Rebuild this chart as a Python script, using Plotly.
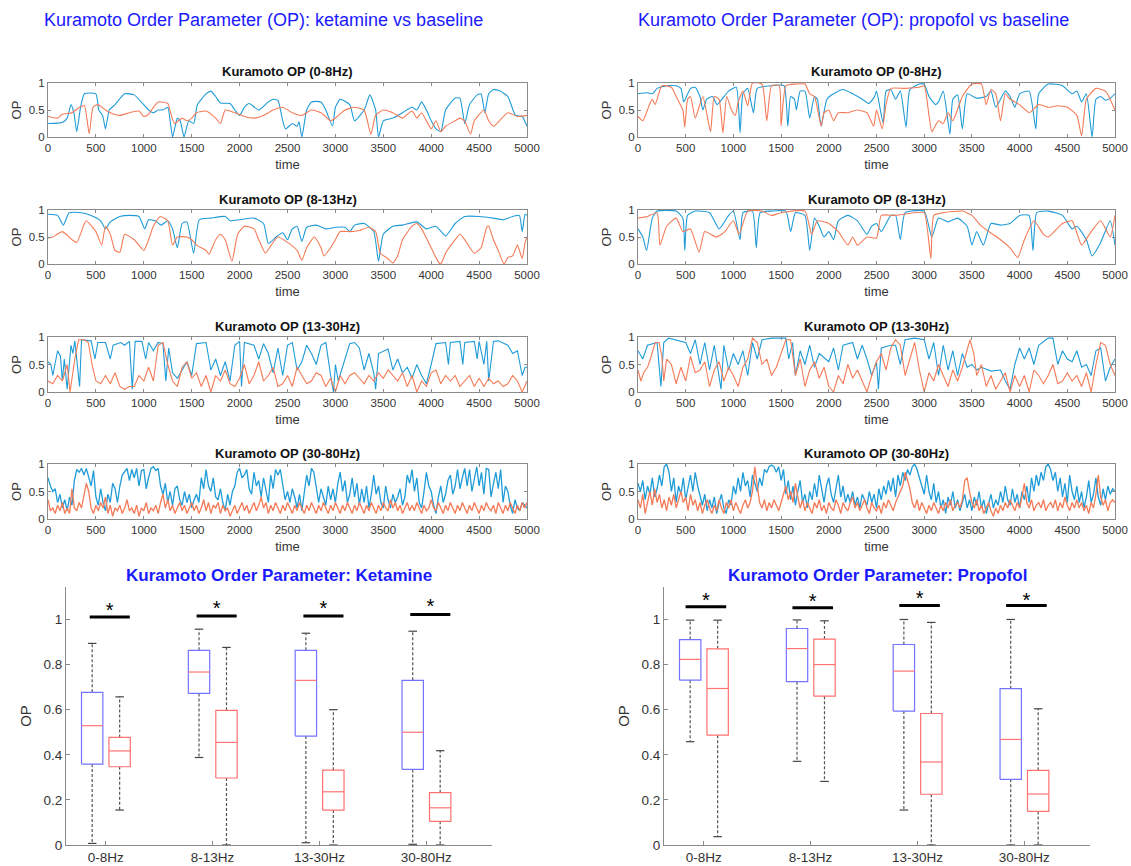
import numpy as np
import plotly.graph_objects as go

W, H = 1131, 866          # picture size
FONT = "Liberation Sans, Arial, sans-serif"
BLUE = "#1f9bd7"
ORANGE = "#f47b57"

# ---------------- time-series data (time, OP) ----------------
KET_08_BASE = [(0,0.25),(150,0.27),(200,0.35),(240,0.6),(270,0.45),(300,0.1),(340,0.55),(380,0.8),(500,0.8),(530,0.5),
 (570,0.4),(600,0.15),(640,0.5),(700,0.6),(800,0.8),(900,0.78),(1050,0.5),(1100,0.45),(1150,0.5),(1200,0.5),
 (1250,0.55),(1300,0.0),(1350,0.35),(1380,0.3),(1420,0.0),(1470,0.3),(1520,0.25),(1560,0.6),(1650,0.8),(1700,0.85),
 (1750,0.75),(1800,0.63),(1900,0.62),(1950,0.5),(2000,0.4),(2050,0.55),(2100,0.62),(2200,0.5),(2300,0.65),(2350,0.7),
 (2400,0.68),(2450,0.3),(2480,0.15),(2550,0.25),(2600,0.2),(2620,0.28),(2650,0.0),(2700,0.5),(2750,0.65),(2850,0.65),
 (2900,0.5),(2970,0.2),(3000,0.55),(3050,0.7),(3150,0.6),(3200,0.3),(3300,0.5),(3360,0.78),(3420,0.5),(3450,0.0),
 (3500,0.3),(3600,0.35),(3700,0.45),(3800,0.55),(3850,0.5),(3900,0.65),(3950,0.5),(4000,0.3),(4050,0.15),(4100,0.1),
 (4150,0.5),(4250,0.72),(4300,0.72),(4350,0.25),(4400,0.6),(4480,0.78),(4520,0.8),(4560,0.45),(4600,0.8),(4650,0.88),
 (4720,0.85),(4800,0.75),(4880,0.4),(4950,0.38),(5000,0.2)]
KET_08_DRUG = [(0,0.38),(100,0.35),(150,0.42),(250,0.45),(330,0.55),(380,0.58),(430,0.06),(470,0.55),(520,0.6),(600,0.5),
 (650,0.45),(750,0.4),(850,0.45),(950,0.48),(1000,0.38),(1050,0.42),(1100,0.55),(1150,0.65),(1250,0.62),(1280,0.45),
 (1320,0.25),(1400,0.35),(1450,0.3),(1500,0.35),(1550,0.45),(1650,0.48),(1750,0.35),(1800,0.25),(1850,0.5),(1950,0.45),
 (2050,0.38),(2150,0.35),(2250,0.4),(2350,0.5),(2450,0.55),(2550,0.45),(2650,0.4),(2750,0.5),(2850,0.45),(2950,0.3),
 (3000,0.35),(3100,0.5),(3200,0.55),(3300,0.5),(3370,0.05),(3420,0.4),(3500,0.5),(3600,0.45),(3700,0.35),(3800,0.48),
 (3850,0.35),(3900,0.45),(3950,0.3),(4000,0.15),(4050,0.3),(4100,0.1),(4150,0.2),(4250,0.3),(4300,0.35),(4350,0.3),
 (4410,0.05),(4450,0.3),(4550,0.5),(4600,0.3),(4650,0.2),(4800,0.45),(4900,0.38),(5000,0.4)]

KET_813_BASE = [(0,0.92),(100,0.9),(160,0.72),(220,0.95),(350,0.95),(450,0.9),(550,0.8),(600,0.65),(650,0.78),(750,0.88),
 (850,0.9),(950,0.88),(1010,0.65),(1050,0.82),(1120,0.8),(1180,0.72),(1250,0.8),(1300,0.65),(1350,0.3),(1400,0.75),
 (1450,0.78),(1520,0.2),(1580,0.82),(1700,0.85),(1850,0.88),(1900,0.8),(2000,0.82),(2150,0.85),(2250,0.75),(2300,0.38),
 (2380,0.5),(2450,0.58),(2500,0.45),(2550,0.65),(2600,0.7),(2650,0.42),(2700,0.68),(2800,0.72),(2900,0.65),(3000,0.68),
 (3100,0.68),(3150,0.6),(3200,0.72),(3300,0.75),(3400,0.6),(3450,0.05),(3500,0.55),(3600,0.7),(3700,0.72),(3850,0.78),
 (3950,0.65),(4050,0.7),(4150,0.52),(4250,0.75),(4350,0.88),(4500,0.88),(4650,0.85),(4750,0.82),(4850,0.88),(4920,0.9),
 (4950,0.6),(4980,0.92),(5000,0.9)]
KET_813_DRUG = [(0,0.48),(50,0.5),(150,0.6),(250,0.45),(300,0.4),(380,0.75),(400,0.8),(500,0.6),(560,0.35),(600,0.7),
 (650,0.55),(700,0.25),(750,0.22),(800,0.55),(900,0.45),(1000,0.25),(1050,0.45),(1100,0.7),(1170,0.88),(1250,0.8),
 (1300,0.35),(1350,0.5),(1450,0.5),(1500,0.45),(1550,0.35),(1650,0.25),(1680,0.18),(1750,0.45),(1800,0.55),(1850,0.45),
 (1920,0.05),(1980,0.55),(2050,0.7),(2150,0.65),(2200,0.45),(2270,0.2),(2330,0.35),(2400,0.5),(2500,0.4),(2600,0.25),
 (2650,0.07),(2700,0.3),(2780,0.5),(2850,0.3),(2880,0.15),(2950,0.3),(3000,0.45),(3050,0.6),(3150,0.6),(3250,0.62),
 (3350,0.68),(3420,0.6),(3470,0.2),(3550,0.1),(3600,0.02),(3650,0.15),(3700,0.45),(3800,0.7),(3850,0.75),(3900,0.65),
 (4000,0.3),(4070,0.05),(4100,0.0),(4150,0.2),(4250,0.45),(4300,0.55),(4350,0.45),(4450,0.2),(4520,0.3),(4580,0.68),
 (4600,0.7),(4650,0.45),(4700,0.25),(4760,0.0),(4800,0.12),(4850,0.15),(4900,0.35),(4950,0.1),(4980,0.4),(5000,0.5)]

KET_1330_BASE = [(0,0.55),(30,0.5),(50,0.3),(100,0.75),(130,0.65),(150,0.2),(170,0.6),(200,0.05),(240,0.85),(260,0.7),
 (280,0.93),(330,0.1),(350,0.95),(450,0.93),(490,0.6),(520,0.9),(600,0.9),(650,0.6),(680,0.85),(760,0.9),
 (800,0.85),(850,0.92),(880,0.05),(910,0.92),(980,0.92),(1020,0.6),(1050,0.9),(1100,0.75),(1150,0.9),(1200,0.88),
 (1230,0.2),(1260,0.8),(1300,0.35),(1350,0.25),(1400,0.4),(1450,0.55),(1500,0.3),(1550,0.88),(1650,0.9),(1700,0.4),
 (1750,0.6),(1800,0.3),(1850,0.55),(1900,0.2),(1950,0.85),(2000,0.92),(2020,0.1),(2050,0.9),(2150,0.85),(2200,0.6),
 (2250,0.88),(2300,0.7),(2350,0.35),(2400,0.8),(2450,0.3),(2500,0.85),(2550,0.9),(2600,0.4),(2650,0.55),(2700,0.85),
 (2750,0.7),(2800,0.5),(2850,0.85),(2900,0.9),(2950,0.3),(2980,0.0),(3000,0.5),(3030,0.2),(3100,0.6),(3150,0.88),
 (3200,0.9),(3250,0.8),(3300,0.4),(3350,0.7),(3400,0.35),(3420,0.05),(3450,0.7),(3550,0.78),(3600,0.4),(3650,0.6),
 (3700,0.35),(3750,0.45),(3800,0.25),(3850,0.5),(3900,0.3),(3950,0.15),(4000,0.5),(4050,0.88),(4150,0.9),(4180,0.5),
 (4200,0.9),(4300,0.92),(4330,0.5),(4350,0.9),(4450,0.92),(4480,0.6),(4500,0.92),(4550,0.5),(4580,0.92),(4600,0.2),
 (4650,0.92),(4700,0.93),(4800,0.85),(4850,0.7),(4900,0.75),(4950,0.3),(4980,0.45),(5000,0.45)]
KET_1330_DRUG = [(0,0.2),(50,0.15),(100,0.3),(150,0.2),(200,0.5),(230,0.0),(280,0.6),(320,0.95),(380,0.95),(420,0.9),
 (460,0.5),(500,0.2),(550,0.15),(600,0.3),(650,0.15),(700,0.35),(750,0.1),(800,0.05),(850,0.1),(900,0.1),
 (950,0.3),(1000,0.2),(1050,0.45),(1100,0.2),(1150,0.85),(1200,0.9),(1250,0.5),(1300,0.2),(1350,0.1),(1400,0.45),
 (1450,0.55),(1500,0.25),(1550,0.35),(1600,0.1),(1650,0.3),(1700,0.0),(1750,0.3),(1800,0.2),(1850,0.4),(1900,0.15),
 (1950,0.1),(2000,0.25),(2050,0.5),(2100,0.15),(2150,0.3),(2200,0.55),(2250,0.2),(2300,0.3),(2350,0.45),(2400,0.1),
 (2450,0.15),(2500,0.3),(2550,0.1),(2600,0.45),(2650,0.3),(2700,0.15),(2750,0.2),(2800,0.35),(2850,0.3),(2900,0.1),
 (2950,0.25),(3000,0.0),(3050,0.3),(3100,0.15),(3150,0.3),(3200,0.35),(3250,0.25),(3300,0.15),(3350,0.3),(3400,0.2),
 (3450,0.35),(3500,0.25),(3550,0.4),(3600,0.3),(3650,0.2),(3700,0.35),(3750,0.1),(3800,0.3),(3850,0.0),(3900,0.2),
 (3950,0.1),(4000,0.35),(4050,0.4),(4100,0.15),(4150,0.3),(4200,0.2),(4250,0.3),(4300,0.1),(4350,0.2),(4400,0.3),
 (4450,0.1),(4500,0.25),(4550,0.1),(4600,0.25),(4650,0.15),(4700,0.2),(4750,0.1),(4800,0.15),(4850,0.3),(4900,0.2),
 (4950,0.0),(5000,0.2)]

FAST_STEP = 25  # the 30-80Hz traces are read every 25 time units
KET_3080_BASE = [0.75,0.6,0.5,0.55,0.3,0.45,0.2,0.35, 0.15,0.4,0.25,0.7,0.9,0.85,0.92,0.8,
 0.92,0.75,0.6,0.88,0.4,0.25,0.55,0.3, 0.15,0.45,0.3,0.65,0.55,0.3,0.6,0.8,
 0.85,0.92,0.7,0.9,0.75,0.92,0.6,0.88, 0.9,0.55,0.75,0.92,0.95,0.88,0.92,0.6,
 0.45,0.65,0.3,0.5,0.25,0.55,0.6,0.35, 0.25,0.5,0.3,0.45,0.2,0.35,0.45,0.3,
 0.75,0.55,0.9,0.6,0.5,0.75,0.4,0.35, 0.55,0.3,0.15,0.45,0.25,0.5,0.6,0.85,
 0.92,0.75,0.8,0.9,0.55,0.45,0.85,0.6, 0.7,0.4,0.75,0.5,0.3,0.8,0.55,0.9,
 0.8,0.9,0.6,0.35,0.5,0.3,0.55,0.4, 0.2,0.45,0.15,0.5,0.8,0.6,0.92,0.85,
 0.6,0.3,0.55,0.4,0.25,0.6,0.35,0.55, 0.3,0.65,0.85,0.5,0.7,0.3,0.45,0.75,
 0.4,0.65,0.25,0.55,0.3,0.6,0.2,0.45, 0.8,0.45,0.6,0.3,0.2,0.6,0.35,0.2,
 0.45,0.3,0.4,0.55,0.25,0.4,0.8,0.65, 0.9,0.5,0.75,0.3,0.2,0.5,0.85,0.6,
 0.5,0.25,0.1,0.4,0.6,0.3,0.45,0.7, 0.8,0.45,0.6,0.9,0.55,0.75,0.92,0.6,
 0.9,0.5,0.75,0.95,0.6,0.85,0.45,0.92, 0.9,0.4,0.65,0.85,0.55,0.9,0.3,0.6,
 0.5,0.25,0.1,0.35,0.2,0.15,0.3,0.25, 0.2]
KET_3080_DRUG = [0.35,0.15,0.2,0.1,0.25,0.15,0.3,0.1, 0.2,0.1,0.55,0.2,0.15,0.3,0.2,0.45,
 0.65,0.5,0.2,0.1,0.25,0.15,0.3,0.2, 0.4,0.1,0.25,0.05,0.2,0.15,0.25,0.1,
 0.2,0.35,0.15,0.2,0.1,0.25,0.05,0.2, 0.15,0.3,0.1,0.2,0.15,0.25,0.1,0.3,
 0.45,0.2,0.35,0.15,0.25,0.1,0.2,0.3, 0.15,0.25,0.1,0.2,0.3,0.15,0.25,0.1,
 0.2,0.35,0.15,0.3,0.1,0.25,0.2,0.3, 0.1,0.25,0.15,0.2,0.05,0.15,0.25,0.1,
 0.2,0.3,0.15,0.25,0.1,0.2,0.3,0.15, 0.25,0.4,0.2,0.3,0.1,0.25,0.15,0.3,
 0.2,0.1,0.25,0.15,0.3,0.2,0.1,0.25, 0.15,0.3,0.2,0.1,0.25,0.15,0.3,0.2,
 0.1,0.25,0.15,0.3,0.2,0.1,0.25,0.15, 0.3,0.2,0.1,0.25,0.15,0.3,0.2,0.1,
 0.25,0.15,0.3,0.2,0.1,0.25,0.15,0.3, 0.2,0.1,0.25,0.15,0.3,0.2,0.15,0.35,
 0.2,0.3,0.15,0.25,0.1,0.2,0.3,0.15, 0.25,0.15,0.3,0.2,0.1,0.25,0.15,0.2,
 0.35,0.2,0.15,0.3,0.2,0.1,0.25,0.15, 0.3,0.2,0.1,0.25,0.15,0.3,0.2,0.1,
 0.25,0.15,0.3,0.2,0.1,0.25,0.15,0.3, 0.2,0.15,0.25,0.1,0.3,0.2,0.1,0.25,
 0.15,0.3,0.2,0.1,0.25,0.15,0.3,0.2, 0.3]

PRO_08_BASE = [(0,0.8),(100,0.82),(150,0.8),(200,0.9),(300,0.95),(400,0.95),(450,0.9),(480,0.65),(550,0.9),(600,0.92),
 (650,0.75),(680,0.5),(720,0.7),(780,0.75),(830,0.6),(880,0.7),(950,0.85),(1030,0.92),(1070,0.08),(1100,0.8),
 (1150,0.9),(1210,0.45),(1250,0.9),(1400,0.95),(1530,0.95),(1570,0.2),(1600,0.75),(1640,0.7),(1660,0.5),(1700,0.85),
 (1750,0.85),(1800,0.35),(1850,0.75),(1880,0.7),(1920,0.2),(1980,0.7),(2050,0.8),(2150,0.88),(2250,0.8),(2350,0.7),
 (2420,0.62),(2480,0.75),(2500,0.85),(2570,0.25),(2600,0.85),(2650,0.88),(2700,0.7),(2750,0.85),(2810,0.18),(2850,0.88),
 (2950,0.98),(3000,0.98),(3050,0.75),(3120,0.6),(3150,0.65),(3200,0.85),(3270,0.05),(3300,0.7),(3350,0.78),(3400,0.15),
 (3450,0.8),(3550,0.72),(3650,0.75),(3700,0.85),(3750,0.55),(3850,0.85),(3900,0.75),(3950,0.55),(4000,0.8),(4100,0.85),
 (4170,0.15),(4200,0.8),(4300,0.98),(4450,0.95),(4550,0.8),(4600,0.85),(4650,0.65),(4700,0.8),(4760,0.0),(4800,0.7),
 (4850,0.75),(4900,0.68),(4950,0.72),(5000,0.8)]
PRO_08_DRUG = [(0,0.38),(50,0.3),(120,0.6),(150,0.7),(180,0.6),(250,0.95),(350,0.92),(400,0.75),(470,0.5),(490,0.18),
 (520,0.7),(550,0.75),(600,0.35),(680,0.75),(760,0.1),(800,0.75),(850,0.7),(890,0.08),(930,0.75),(980,0.5),
 (1020,0.4),(1050,0.65),(1100,0.85),(1150,0.58),(1200,1.0),(1300,0.98),(1350,0.3),(1400,0.95),(1480,0.95),(1500,0.2),
 (1550,0.95),(1650,0.98),(1750,0.98),(1800,0.8),(1850,0.75),(1920,0.2),(1950,0.45),(2000,0.5),(2050,0.3),(2100,0.45),
 (2200,0.45),(2300,0.5),(2400,0.45),(2470,0.2),(2500,0.5),(2560,0.15),(2600,0.6),(2650,0.9),(2800,0.9),(2950,0.92),
 (3000,0.95),(3050,0.4),(3080,0.1),(3150,0.3),(3200,0.25),(3250,0.45),(3300,0.3),(3400,0.75),(3500,0.98),(3600,0.98),
 (3650,0.6),(3700,0.88),(3750,0.8),(3800,0.3),(3850,0.8),(3900,0.7),(4000,0.6),(4100,0.45),(4200,0.6),(4300,0.55),
 (4400,0.58),(4500,0.55),(4600,0.4),(4650,0.02),(4700,0.7),(4800,0.9),(4900,0.85),(5000,0.5)]

PRO_813_BASE = [(0,0.65),(50,0.5),(90,0.25),(150,0.85),(200,0.98),(400,0.98),(470,0.85),(490,0.25),(520,0.9),(600,0.98),
 (750,0.95),(850,0.65),(950,0.9),(1000,0.98),(1070,0.45),(1100,0.95),(1200,0.98),(1240,0.3),(1280,0.95),(1400,0.98),
 (1550,0.98),(1600,0.6),(1650,0.95),(1750,0.9),(1800,0.25),(1850,0.85),(1900,0.7),(1950,0.5),(2000,0.6),(2050,0.45),
 (2100,0.8),(2200,0.9),(2300,0.8),(2400,0.55),(2450,0.7),(2500,0.75),(2550,0.6),(2650,0.9),(2700,0.9),(2750,0.45),
 (2800,0.95),(3000,0.98),(3080,0.5),(3150,0.85),(3250,0.78),(3350,0.85),(3450,0.7),(3500,0.35),(3550,0.6),(3620,0.35),
 (3700,0.75),(3800,0.72),(3900,0.75),(4000,0.9),(4100,0.9),(4140,0.25),(4180,0.95),(4300,0.98),(4450,0.9),(4550,0.65),
 (4600,0.7),(4700,0.45),(4760,0.15),(4850,0.4),(4950,0.8),(5000,0.35)]
PRO_813_DRUG = [(0,0.85),(100,0.88),(200,0.95),(230,0.35),(300,0.7),(400,0.85),(470,0.6),(550,0.65),(640,0.22),(700,0.6),
 (820,0.5),(900,0.58),(1000,0.8),(1060,0.55),(1150,0.98),(1300,0.98),(1400,0.9),(1500,0.95),(1750,0.98),(1820,0.55),
 (1880,0.8),(2000,0.75),(2100,0.6),(2200,0.35),(2250,0.5),(2300,0.35),(2400,0.5),(2500,0.48),(2550,0.9),(2700,0.9),
 (2900,0.95),(3000,0.95),(3070,0.1),(3100,0.9),(3200,0.95),(3400,0.98),(3500,0.9),(3600,0.7),(3800,0.45),(3900,0.3),
 (3980,0.12),(4050,0.45),(4150,0.8),(4250,0.55),(4300,0.5),(4450,0.75),(4550,0.8),(4650,0.35),(4750,0.6),(4850,0.8),
 (4950,0.5),(5000,0.9)]

PRO_1330_BASE = [(0,0.75),(50,0.6),(100,0.85),(200,0.9),(240,0.1),(270,0.9),(320,0.98),(400,0.95),(500,0.9),(550,0.7),
 (600,0.95),(650,0.5),(700,0.9),(750,0.4),(800,0.85),(870,0.05),(900,0.85),(950,0.4),(1000,0.7),(1050,0.5),
 (1100,0.75),(1150,0.3),(1200,0.9),(1250,0.6),(1300,0.95),(1400,0.98),(1550,0.98),(1580,0.6),(1620,0.9),(1650,0.3),
 (1700,0.75),(1750,0.5),(1800,0.85),(1850,0.45),(1900,0.7),(2000,0.55),(2050,0.8),(2100,0.4),(2150,0.85),(2250,0.9),
 (2300,0.6),(2350,0.85),(2400,0.6),(2450,0.3),(2500,0.55),(2520,0.05),(2550,0.8),(2650,0.85),(2700,0.85),(2750,0.5),
 (2800,0.95),(2900,0.98),(3000,0.95),(3050,0.6),(3100,0.9),(3150,0.3),(3200,0.85),(3250,0.4),(3300,0.75),(3350,0.3),
 (3400,0.7),(3450,0.45),(3500,0.5),(3550,0.4),(3600,0.45),(3700,0.38),(3800,0.4),(3850,0.2),(3900,0.05),(3950,0.5),
 (4000,0.8),(4050,0.6),(4100,0.8),(4150,0.5),(4200,0.85),(4300,0.98),(4350,0.98),(4400,0.5),(4450,0.75),(4500,0.6),
 (4550,0.55),(4600,0.75),(4650,0.45),(4700,0.5),(4750,0.3),(4800,0.75),(4850,0.8),(4900,0.2),(4950,0.45),(5000,0.6)]
PRO_1330_DRUG = [(0,0.4),(30,0.2),(60,0.35),(100,0.45),(130,0.6),(180,0.9),(220,0.9),(250,0.65),(270,0.2),(300,0.6),
 (350,0.5),(400,0.15),(450,0.45),(500,0.2),(550,0.65),(600,0.35),(650,0.4),(700,0.55),(750,0.1),(800,0.4),
 (850,0.55),(900,0.2),(950,0.45),(1000,0.3),(1050,0.1),(1100,0.45),(1150,0.6),(1200,0.98),(1250,0.9),(1300,0.5),
 (1350,0.6),(1400,0.3),(1450,0.45),(1550,0.95),(1600,0.95),(1650,0.3),(1700,0.6),(1750,0.1),(1800,0.4),(1850,0.55),
 (1900,0.25),(1950,0.45),(2000,0.1),(2050,0.0),(2100,0.3),(2150,0.15),(2200,0.5),(2250,0.25),(2300,0.4),(2400,0.0),
 (2450,0.3),(2500,0.55),(2550,0.7),(2600,0.4),(2650,0.8),(2700,0.95),(2750,0.85),(2800,0.3),(2850,0.6),(2900,0.9),
 (2950,0.4),(3000,0.0),(3050,0.35),(3100,0.2),(3150,0.5),(3200,0.3),(3250,0.1),(3300,0.4),(3350,0.2),(3400,0.45),
 (3480,0.95),(3520,0.7),(3550,0.3),(3600,0.5),(3650,0.1),(3700,0.3),(3750,0.05),(3800,0.2),(3850,0.35),(3900,0.0),
 (3950,0.3),(4000,0.1),(4050,0.3),(4100,0.0),(4150,0.4),(4200,0.3),(4250,0.15),(4300,0.3),(4350,0.5),(4400,0.15),
 (4450,0.2),(4500,0.35),(4550,0.2),(4600,0.3),(4650,0.1),(4700,0.35),(4750,0.0),(4800,0.5),(4850,0.9),(4900,0.85),
 (4950,0.5),(5000,0.3)]

PRO_3080_BASE = [0.65,0.5,0.7,0.35,0.6,0.45,0.75,0.4, 0.55,0.8,0.6,0.95,1.0,0.85,0.5,0.75,
 0.3,0.6,0.45,0.75,0.35,0.55,0.8,0.5, 0.85,0.6,0.4,0.25,0.45,0.15,0.35,0.2,
 0.4,0.1,0.3,0.45,0.2,0.1,0.35,0.25, 0.6,0.45,0.75,0.5,0.85,0.6,0.7,0.4,
 0.8,0.65,0.5,0.75,0.6,0.9,0.85,0.95, 0.98,0.95,0.85,0.95,0.7,0.9,0.45,0.7,
 0.35,0.6,0.25,0.5,0.7,0.3,0.45,0.2, 0.5,0.35,0.65,0.4,0.8,0.55,0.3,0.6,
 0.75,0.45,0.3,0.55,0.8,0.4,0.6,0.3, 0.45,0.3,0.5,0.25,0.4,0.2,0.45,0.35,
 0.25,0.5,0.3,0.45,0.2,0.55,0.35,0.6, 0.45,0.7,0.5,0.75,0.4,0.8,0.6,0.85,
 0.7,0.9,0.8,0.95,1.0,0.9,0.75,0.6, 0.45,0.8,0.5,0.35,0.65,0.3,0.5,0.2,
 0.35,0.1,0.4,0.25,0.5,0.2,0.35,0.15, 0.3,0.45,0.2,0.35,0.15,0.4,0.25,0.5,
 0.2,0.35,0.1,0.3,0.45,0.2,0.35,0.25, 0.5,0.3,0.6,0.35,0.25,0.55,0.3,0.45,
 0.2,0.5,0.35,0.6,0.3,0.75,0.5,0.8, 0.6,0.85,0.7,0.95,1.0,0.9,0.7,0.85,
 0.5,0.75,0.4,0.65,0.3,0.8,0.5,0.35, 0.6,0.3,0.5,0.2,0.4,0.7,0.3,0.45,
 0.75,0.4,0.25,0.55,0.35,0.6,0.45,0.55, 0.5]
PRO_3080_DRUG = [0.35,0.2,0.45,0.1,0.3,0.5,0.25,0.55, 0.3,0.45,0.2,0.35,0.15,0.4,0.25,0.45,
 0.2,0.35,0.5,0.3,0.4,0.15,0.45,0.25, 0.35,0.15,0.3,0.1,0.25,0.35,0.2,0.1,
 0.25,0.15,0.35,0.2,0.1,0.3,0.2,0.35, 0.15,0.3,0.2,0.1,0.25,0.35,0.2,0.3,
 0.5,0.95,0.6,0.3,0.2,0.35,0.15,0.3, 0.2,0.35,0.25,0.15,0.3,0.45,0.6,0.35,
 0.5,0.3,0.65,0.4,0.2,0.35,0.15,0.3, 0.2,0.1,0.3,0.2,0.35,0.15,0.25,0.1,
 0.3,0.2,0.15,0.35,0.25,0.1,0.3,0.2, 0.15,0.3,0.4,0.2,0.3,0.15,0.25,0.35,
 0.2,0.1,0.3,0.2,0.15,0.25,0.1,0.3, 0.2,0.35,0.25,0.15,0.3,0.4,0.5,0.6,
 0.85,0.7,0.55,0.3,0.2,0.35,0.15,0.3, 0.2,0.1,0.25,0.15,0.3,0.2,0.1,0.25,
 0.15,0.3,0.2,0.35,0.15,0.25,0.3,0.2, 0.35,0.7,0.75,0.5,0.3,0.2,0.35,0.15,
 0.25,0.1,0.2,0.3,0.15,0.05,0.2,0.1, 0.25,0.15,0.3,0.2,0.35,0.25,0.15,0.3,
 0.2,0.4,0.65,0.3,0.2,0.35,0.15,0.25, 0.3,0.2,0.35,0.15,0.25,0.3,0.2,0.35,
 0.15,0.3,0.2,0.4,0.25,0.15,0.3,0.2, 0.35,0.2,0.3,0.15,0.25,0.1,0.3,0.2,
 0.45,0.8,0.4,0.25,0.35,0.15,0.3,0.35, 0.3]

BAND_TITLES = ["Kuramoto OP (0-8Hz)", "Kuramoto OP (8-13Hz)", "Kuramoto OP (13-30Hz)", "Kuramoto OP (30-80Hz)"]
TIME_TICKS = list(range(0, 5001, 500))

# ---------------- box-plot summary statistics ----------------
BANDS = ["0-8Hz", "8-13Hz", "13-30Hz", "30-80Hz"]
KET_BASE_LOWER = [0.007, 0.388, 0.01, 0.003]
KET_BASE_Q1 = [0.359, 0.672, 0.483, 0.335]
KET_BASE_MED = [0.529, 0.767, 0.73, 0.5]
KET_BASE_Q3 = [0.677, 0.863, 0.863, 0.73]
KET_BASE_UPPER = [0.894, 0.957, 0.939, 0.948]
KET_DRUG_LOWER = [0.155, 0.0, 0.0, 0.0]
KET_DRUG_Q1 = [0.347, 0.297, 0.155, 0.105]
KET_DRUG_MED = [0.417, 0.455, 0.236, 0.165]
KET_DRUG_Q3 = [0.477, 0.597, 0.332, 0.232]
KET_DRUG_UPPER = [0.657, 0.876, 0.6, 0.418]
PRO_BASE_LOWER = [0.458, 0.371, 0.155, 0.0]
PRO_BASE_Q1 = [0.731, 0.724, 0.594, 0.291]
PRO_BASE_MED = [0.823, 0.871, 0.771, 0.468]
PRO_BASE_Q3 = [0.911, 0.96, 0.889, 0.693]
PRO_BASE_UPPER = [0.997, 0.998, 1.0, 1.0]
PRO_DRUG_LOWER = [0.037, 0.282, 0.0, 0.0]
PRO_DRUG_Q1 = [0.487, 0.66, 0.225, 0.149]
PRO_DRUG_MED = [0.694, 0.8, 0.368, 0.226]
PRO_DRUG_Q3 = [0.87, 0.913, 0.583, 0.331]
PRO_DRUG_UPPER = [0.997, 0.994, 0.987, 0.604]
KET_SIG_Y = [1.011, 1.015, 1.015, 1.022]
KET_STAR_Y = [1.056, 1.063, 1.063, 1.074]
PRO_SIG_Y = [1.056, 1.052, 1.062, 1.062]
PRO_STAR_Y = [1.1, 1.093, 1.108, 1.1]
OP_TICKS = [0, 0.2, 0.4, 0.6, 0.8, 1]

# ---------------- layout geometry (pixels of the picture) ----------------
COL_X = [(48, 527), (638, 1115)]
ROW_Y = [(83, 137), (210, 264), (337, 392), (464, 519)]
BOX_X = [(66, 492), (664, 1090)]
BOX_Y = (587, 845)
BOX_XRANGE = [0.628, 4.615]
BOX_YRANGE = [0, 1.144]
STAR_SHIFT = -0.022   # the "*" glyph sits high in its text box; nudge it down onto the read position


def px(x):
    return x / W


def py(y):
    return 1 - y / H


def dom_x(a, b):
    return [px(a), px(b)]


def dom_y(top, bottom):
    return [py(bottom), py(top)]


def refs(n):
    return ("x" if n == 1 else f"x{n}", "y" if n == 1 else f"y{n}")


def keys(n):
    return ("xaxis" if n == 1 else f"xaxis{n}", "yaxis" if n == 1 else f"yaxis{n}")


fig = go.Figure()
layout_axes = {}
annotations = []

FRAME = "#8a8a8a"
TXT = "#333333"

series = [
    [KET_08_BASE, KET_08_DRUG, KET_813_BASE, KET_813_DRUG, KET_1330_BASE, KET_1330_DRUG, KET_3080_BASE, KET_3080_DRUG],
    [PRO_08_BASE, PRO_08_DRUG, PRO_813_BASE, PRO_813_DRUG, PRO_1330_BASE, PRO_1330_DRUG, PRO_3080_BASE, PRO_3080_DRUG],
]


def as_xy(s):
    if isinstance(s[0], tuple):
        t, v = zip(*s)
        return list(t), list(v)
    return list(np.arange(len(s)) * FAST_STEP), list(s)


n = 0
for col in range(2):
    for row in range(4):
        n += 1
        xr, yr = refs(n)
        xk, yk = keys(n)
        base, drug = series[col][2 * row], series[col][2 * row + 1]
        for s, c in ((base, BLUE), (drug, ORANGE)):
            t, v = as_xy(s)
            line = dict(color=c, width=1.1 if row < 3 else 1.3)
            if row < 2:
                line.update(shape="spline", smoothing=0.5)
            fig.add_trace(go.Scatter(x=t, y=v, mode="lines", line=line,
                                     xaxis=xr, yaxis=yr, showlegend=False, hoverinfo="skip"))
        x0, x1 = COL_X[col]
        top, bot = ROW_Y[row]
        layout_axes[xk] = dict(domain=dom_x(x0, x1), anchor=yr, range=[0, 5000], tickvals=TIME_TICKS,
                               ticks="inside", ticklen=3, tickcolor=FRAME, showline=True, mirror="ticks",
                               linecolor=FRAME, linewidth=1, showgrid=False, zeroline=False, automargin=False,
                               tickfont=dict(size=11.5, color=TXT, family=FONT),
                               title=dict(text="time", font=dict(size=13, color=TXT, family=FONT), standoff=7))
        layout_axes[yk] = dict(domain=dom_y(top, bot), anchor=xr, range=[0, 1], tickvals=[0, 0.5, 1],
                               ticktext=["0", "0.5", "1"], ticks="inside", ticklen=3, tickcolor=FRAME,
                               showline=True, mirror="ticks", linecolor=FRAME, linewidth=1, showgrid=False,
                               zeroline=False, automargin=False, tickfont=dict(size=11.5, color=TXT, family=FONT),
                               title=dict(text="OP", font=dict(size=13, color=TXT, family=FONT), standoff=4))
        annotations.append(dict(text="<b>" + BAND_TITLES[row] + "</b>", xref="paper", yref="paper",
                                x=px((x0 + x1) / 2), y=py(top - 11), showarrow=False,
                                font=dict(size=13, color="#111", family=FONT), xanchor="center", yanchor="middle"))

# ---------------- box plots ----------------
BOX_W = 0.2
CAP_W = 0.08
OFFS = (-0.127, 0.13)
BOX_EDGE = ("#7373ff", "#ff7070")
MED_COL = "#ff7373"

box_sets = [
    ((KET_BASE_LOWER, KET_BASE_Q1, KET_BASE_MED, KET_BASE_Q3, KET_BASE_UPPER),
     (KET_DRUG_LOWER, KET_DRUG_Q1, KET_DRUG_MED, KET_DRUG_Q3, KET_DRUG_UPPER),
     KET_SIG_Y, KET_STAR_Y, (-0.15, 0.225), "Kuramoto Order Parameter: Ketamine"),
    ((PRO_BASE_LOWER, PRO_BASE_Q1, PRO_BASE_MED, PRO_BASE_Q3, PRO_BASE_UPPER),
     (PRO_DRUG_LOWER, PRO_DRUG_Q1, PRO_DRUG_MED, PRO_DRUG_Q3, PRO_DRUG_UPPER),
     PRO_SIG_Y, PRO_STAR_Y, (-0.17, 0.21), "Kuramoto Order Parameter: Propofol"),
]

for k, (bstats, dstats, sig_y, star_y, sig_off, title) in enumerate(box_sets):
    n = 9 + k
    xr, yr = refs(n)
    xk, yk = keys(n)
    pos = np.arange(1, len(BANDS) + 1)
    for j, stats in enumerate((bstats, dstats)):
        lo, q1, med, q3, up = stats
        wx, wy, cx, cy, bx, by, mx, my = [], [], [], [], [], [], [], []
        for i, p in enumerate(pos):
            c = p + OFFS[j]
            wx += [c, c, None, c, c, None]
            wy += [q3[i], up[i], None, q1[i], lo[i], None]
            cx += [c - CAP_W / 2, c + CAP_W / 2, None, c - CAP_W / 2, c + CAP_W / 2, None]
            cy += [up[i], up[i], None, lo[i], lo[i], None]
            bx += [c - BOX_W / 2, c + BOX_W / 2, c + BOX_W / 2, c - BOX_W / 2, c - BOX_W / 2, None]
            by += [q1[i], q1[i], q3[i], q3[i], q1[i], None]
            mx += [c - BOX_W / 2, c + BOX_W / 2, None]
            my += [med[i], med[i], None]
        common = dict(mode="lines", xaxis=xr, yaxis=yr, showlegend=False, hoverinfo="skip")
        fig.add_trace(go.Scatter(x=wx, y=wy, line=dict(color="#555555", width=1.2, dash="3px,2px"), **common))
        fig.add_trace(go.Scatter(x=cx, y=cy, line=dict(color="#444444", width=1.2), **common))
        fig.add_trace(go.Scatter(x=bx, y=by, line=dict(color=BOX_EDGE[j], width=1.2), **common))
        fig.add_trace(go.Scatter(x=mx, y=my, line=dict(color=MED_COL, width=1.2), **common))
    # significance bars and stars
    sx, sy = [], []
    for i, p in enumerate(pos):
        sx += [p + sig_off[0], p + sig_off[1], None]
        sy += [sig_y[i], sig_y[i], None]
    fig.add_trace(go.Scatter(x=sx, y=sy, mode="lines", line=dict(color="black", width=3),
                             xaxis=xr, yaxis=yr, showlegend=False, hoverinfo="skip"))
    fig.add_trace(go.Scatter(x=pos + (sig_off[0] + sig_off[1]) / 2, y=np.array(star_y) + STAR_SHIFT,
                             mode="text", text=["*"] * len(pos),
                             textposition="middle center", textfont=dict(size=20, color="black", family=FONT),
                             xaxis=xr, yaxis=yr, showlegend=False, hoverinfo="skip"))
    x0, x1 = BOX_X[k]
    layout_axes[xk] = dict(domain=dom_x(x0, x1), anchor=yr, range=BOX_XRANGE, tickvals=list(pos),
                           ticktext=BANDS, ticks="inside", ticklen=4, tickcolor=FRAME, showline=True,
                           linecolor=FRAME, linewidth=1, showgrid=False, zeroline=False, automargin=False,
                           tickfont=dict(size=13.5, color=TXT, family=FONT))
    layout_axes[yk] = dict(domain=dom_y(*BOX_Y), anchor=xr, range=BOX_YRANGE, tickvals=OP_TICKS,
                           ticktext=["0", "0.2", "0.4", "0.6", "0.8", "1"], ticks="inside", ticklen=4,
                           tickcolor=FRAME, showline=True, linecolor=FRAME, linewidth=1, showgrid=False,
                           zeroline=False, automargin=False, tickfont=dict(size=13.5, color=TXT, family=FONT),
                           title=dict(text="OP", font=dict(size=15, color=TXT, family=FONT), standoff=8))
    annotations.append(dict(text="<b>" + title + "</b>", xref="paper", yref="paper",
                            x=px((x0 + x1) / 2), y=py(575), showarrow=False,
                            font=dict(size=17, color="#1a1aff", family=FONT), xanchor="center", yanchor="middle"))

# ---------------- main titles ----------------
for text, xl in (("Kuramoto Order Parameter (OP): ketamine vs baseline", 42),
                 ("Kuramoto Order Parameter (OP): propofol vs baseline", 636)):
    annotations.append(dict(text=text, xref="paper", yref="paper", x=px(xl), y=py(20), showarrow=False,
                            font=dict(size=18, color="#1a1aff", family=FONT), xanchor="left", yanchor="middle"))

fig.update_layout(width=W, height=H, margin=dict(l=0, r=0, t=0, b=0, autoexpand=False), paper_bgcolor="white",
                  plot_bgcolor="white", annotations=annotations, font=dict(family=FONT), **layout_axes)
# the page's default 8px body margin would push the 1131x866 figure off the window; remove it
fig.write_html("out.html", config={"displayModeBar": False},
               post_script="document.body.style.margin='0px';document.body.style.overflow='hidden';")
